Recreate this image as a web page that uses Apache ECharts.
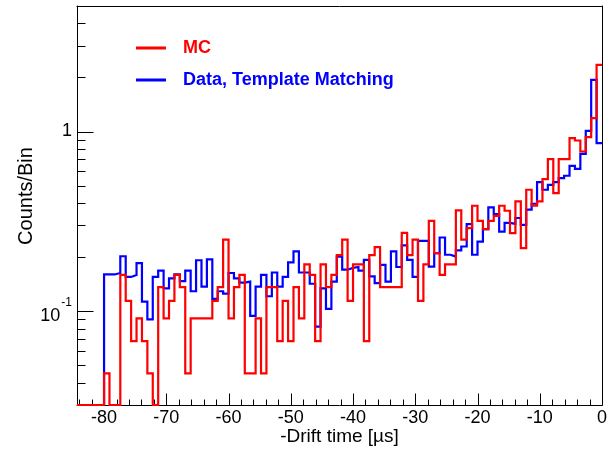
<!DOCTYPE html>
<html><head><meta charset="utf-8">
<script src="https://cdn.jsdelivr.net/npm/echarts@6/dist/echarts.min.js"></script>
<style>html,body{margin:0;padding:0;background:#fff}#c{width:610px;height:451px}</style>
</head><body><div id="c"></div>
<script>
// Histogram range (µs) – 97 equal bins
const binLow = -84.348;
const binHigh = 0;

// MC (red) counts/bin, one value per bin (0 = empty bin)
const mcValues = [0,0,0,0,0,
 0.045,0,0,0.159,0.114,0.068,0.091,0.068,0.045,0,
 0.136,0.091,0.114,0.159,0.136,0.045,0.091,0.091,0.091,0.091,
 0.114,0.136,0.250,0.091,0.136,0.159,0.045,0.045,0.091,0.045,
 0.136,0.136,0.068,0.114,0.068,0.136,0.091,0.182,0.159,0.068,
 0.182,0.136,0.159,0.205,0.250,0.114,0.182,0.182,0.068,0.205,
 0.227,0.136,0.136,0.136,0.136,0.273,0.205,0.250,0.114,0.182,
 0.318,0.210,0.159,0.182,0.182,0.364,0.250,0.290,0.386,0.318,
 0.286,0.318,0.339,0.386,0.362,0.272,0.408,0.224,0.474,0.386,
 0.408,0.543,0.702,0.454,0.702,0.702,0.919,0.891,0.774,0.931,
 1.187,2.352];

// Data, Template Matching (blue) counts/bin
const dataValues = [0,0,0,0,0,
 0.160,0.160,0.163,0.202,0.155,0.159,0.185,0.113,0.090,0.155,
 0.168,0.134,0.152,0.160,0.147,0.168,0.129,0.192,0.137,0.194,
 0.117,0.129,0.125,0.163,0.152,0.144,0.146,0.094,0.137,0.159,
 0.121,0.164,0.137,0.155,0.187,0.215,0.164,0.164,0.142,0.082,
 0.134,0.103,0.146,0.201,0.170,0.174,0.176,0.168,0.193,0.156,
 0.143,0.181,0.146,0.215,0.176,0.232,0.193,0.155,0.246,0.246,
 0.177,0.210,0.257,0.206,0.201,0.218,0.229,0.305,0.206,0.244,
 0.286,0.378,0.347,0.277,0.310,0.306,0.330,0.302,0.367,0.396,
 0.523,0.474,0.505,0.523,0.550,0.567,0.644,0.620,0.751,1.009,
 1.941,0.862];

const xTickLabels = [-80,-70,-60,-50,-40,-30,-20,-10,0];
const xMinorTicks = [-84,-82,-78,-76,-74,-72,-68,-66,-64,-62,-58,-56,-54,-52,-48,-46,-44,-42,-38,-36,-34,-32,-28,-26,-24,-22,-18,-16,-14,-12,-8,-6,-4,-2];
const yTickLabels = [0.1, 1];
const yMinorTicks = [0.04,0.05,0.06,0.07,0.08,0.09,0.2,0.3,0.4,0.5,0.6,0.7,0.8,0.9,2,3,4];
const yMin = 0.03, yMax = 5;

const FONT = 'Liberation Sans, Arial, Helvetica, sans-serif';

function histPath(vals) {
  const n = vals.length, w = (binHigh - binLow) / n, pts = [];
  for (let i = 0; i < n; i++) {
    const v = Math.max(vals[i], yMin);
    pts.push([binLow + i * w, v], [binLow + (i + 1) * w, v]);
  }
  return pts;
}

// inward-pointing tick marks placed through the axes' own scales
function tickSeries(vals, dim, len) {
  return {
    type: 'custom', silent: true, clip: false, xAxisIndex: 0, yAxisIndex: 0,
    data: vals.map(v => dim === 'x' ? [v, yMin] : [binLow, v]),
    encode: {x: 0, y: 1},
    renderItem: function (params, api) {
      const p = api.coord([api.value(0), api.value(1)]);
      const x = Math.round(p[0]) + 0.5, y = Math.round(p[1]) + 0.5;
      const shape = dim === 'x' ? {x1: x, y1: y, x2: x, y2: y - len} : {x1: x, y1: y, x2: x + len, y2: y};
      return {type: 'line', shape: shape, style: {stroke: '#000', lineWidth: 1}};
    }
  };
}

const chart = echarts.init(document.getElementById('c'), null, {renderer: 'canvas'});
const blk = {color: '#000', width: 1};
chart.setOption({
  animation: false,
  backgroundColor: '#fff',
  grid: {left: 77, right: 8, top: 6, bottom: 46, containLabel: false, outerBoundsMode: 'none'},
  legend: {
    orient: 'vertical', left: 136, top: 39, padding: 0, itemWidth: 30, itemHeight: 3, itemGap: 14,
    icon: 'rect', selectedMode: false,
    data: [
      {name: 'MC', textStyle: {color: '#ff0000'}},
      {name: 'Data, Template Matching', textStyle: {color: '#0000ff'}}
    ],
    textStyle: {fontFamily: FONT, fontSize: 18, fontWeight: 'bold', lineHeight: 18, padding: [0, 0, 0, 12]}
  },
  xAxis: [
    {
      type: 'value', min: binLow, max: binHigh, position: 'bottom',
      axisLine: {show: true, onZero: false, lineStyle: blk},
      axisTick: {show: false},
      axisLabel: {customValues: xTickLabels, margin: 4, fontSize: 18, color: '#000', fontFamily: FONT},
      splitLine: {show: false},
      name: '-Drift time [\u00b5s]', nameLocation: 'middle', nameGap: 22, nameMoveOverlap: false,
      nameTextStyle: {fontSize: 19, color: '#000', fontFamily: FONT}
    },
    {
      type: 'value', min: binLow, max: binHigh, position: 'top',
      axisLine: {show: true, onZero: false, lineStyle: blk},
      axisTick: {show: false}, axisLabel: {show: false}, splitLine: {show: false}
    }
  ],
  yAxis: [
    {
      type: 'log', logBase: 10, min: yMin, max: yMax, position: 'left',
      axisLine: {show: true, onZero: false, lineStyle: blk},
      axisTick: {show: false},
      axisLabel: {
        customValues: yTickLabels, margin: 5, color: '#000', fontFamily: FONT, fontSize: 18,
        formatter: function (v) {
          const e = Math.round(Math.log10(v));
          if (e === 0) return '{c|1}';
          if (e === 1) return '{c|10}';
          return '{b|10}{s|' + e + '}';
        },
        rich: {
          c: {fontSize: 18, lineHeight: 18, fontFamily: FONT, color: '#000'},
          b: {fontSize: 18, lineHeight: 28, verticalAlign: 'bottom', fontFamily: FONT, color: '#000'},
          s: {fontSize: 12, lineHeight: 12, verticalAlign: 'top', fontFamily: FONT, color: '#000', padding: [0, 0, 0, 1]}
        }
      },
      splitLine: {show: false},
      name: 'Counts/Bin', nameLocation: 'middle', nameGap: 41, nameMoveOverlap: false,
      nameTextStyle: {fontSize: 20, color: '#000', fontFamily: FONT, padding: [0, 0, 0, 19]}
    },
    {
      type: 'log', logBase: 10, min: yMin, max: yMax, position: 'right',
      axisLine: {show: true, onZero: false, lineStyle: blk},
      axisTick: {show: false}, axisLabel: {show: false}, splitLine: {show: false}
    }
  ],
  series: [
    tickSeries(xTickLabels, 'x', 12),
    tickSeries(xMinorTicks, 'x', 6),
    tickSeries(yTickLabels, 'y', 16),
    tickSeries(yMinorTicks, 'y', 8),
    {
      name: 'Data, Template Matching', type: 'line', xAxisIndex: 0, yAxisIndex: 0,
      data: histPath(dataValues), showSymbol: false, symbol: 'none', clip: false,
      lineStyle: {color: '#0000ff', width: 2.2, join: 'miter'}, itemStyle: {color: '#0000ff'}
    },
    {
      name: 'MC', type: 'line', xAxisIndex: 0, yAxisIndex: 0,
      data: histPath(mcValues), showSymbol: false, symbol: 'none', clip: false,
      lineStyle: {color: '#ff0000', width: 2.2, join: 'miter'}, itemStyle: {color: '#ff0000'}
    }
  ]
});
</script>
</body></html>
